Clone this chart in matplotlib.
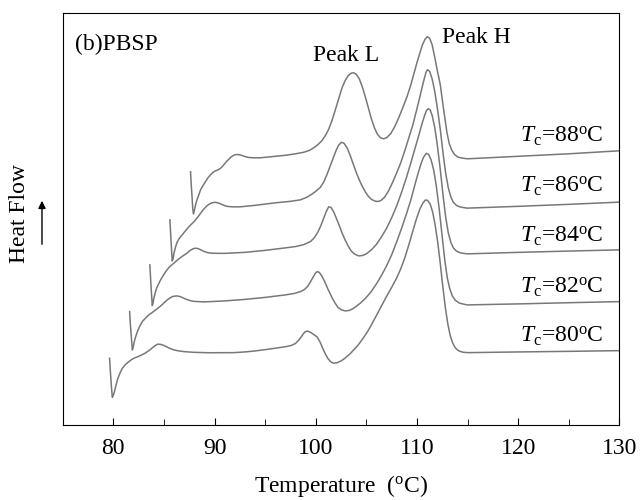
import matplotlib
matplotlib.use("Agg")
import matplotlib.pyplot as plt
from matplotlib.patches import FancyArrowPatch
from matplotlib.ticker import MultipleLocator

plt.rcParams['font.family'] = ['Liberation Serif', 'DejaVu Serif']
plt.rcParams['mathtext.fontset'] = 'custom'
plt.rcParams['mathtext.rm'] = 'Liberation Serif'
plt.rcParams['mathtext.it'] = 'Liberation Serif:italic'

# DSC heating traces after isothermal crystallization at Tc (a.u.)
t_88 = [87.63, 87.70, 87.78, 87.85, 87.92, 88.0, 88.15, 88.3, 88.45, 88.62, 88.85, 89.1, 89.35,
        89.61, 89.85, 90.1, 90.35, 90.59, 90.8, 91.0, 91.2, 91.41, 91.6, 91.8, 92.0, 92.24, 92.5,
        92.8, 93.1, 93.4, 93.88, 94.5, 95.0, 96.0, 97.0, 98.0, 98.8, 99.4, 99.8, 100.2, 100.6,
        101.0, 101.3, 101.6, 102.0, 102.3, 102.6, 102.9, 103.2, 103.5, 103.75, 104.0, 104.3,
        104.6, 104.9, 105.2, 105.5, 105.8, 106.1, 106.4, 106.71, 107.0, 107.4, 107.8, 108.2,
        108.6, 109.02, 109.4, 109.7, 110.0, 110.3, 110.55, 110.8, 111.03, 111.25, 111.5, 111.75,
        112.0, 112.31, 112.6, 112.97, 113.2, 113.45, 113.7, 114.0, 114.4, 115.0, 120.0, 125.0, 130.0]
h_88 = [253, 240, 228, 216, 211, 214, 221, 226, 230, 235, 239, 243, 247,
        250, 252.5, 254, 255, 256.5, 258.5, 261, 263.5, 265.5, 267.5, 269, 270, 270.3, 270,
        269, 268, 267.3, 267, 267, 267.5, 268.5, 269.5, 271, 272.5, 274.5, 277, 280, 284,
        290, 296, 304, 317, 327, 337, 344, 349, 351.5, 352, 350.5, 346,
        338, 328, 317, 306, 297, 290.5, 287, 286, 287, 291, 298, 307,
        317, 328, 340, 351, 362, 372, 380, 385.5, 388, 386.5, 380, 368,
        355, 340, 318, 292, 281, 274.5, 270.5, 268, 266.8, 266, 268.5, 271, 274]

t_86 = [85.59, 85.66, 85.74, 85.82, 85.9, 86.0, 86.15, 86.3, 86.45, 86.64, 86.85, 87.0, 87.25,
        87.46, 87.7, 88.0, 88.29, 88.55, 88.8, 89.05, 89.3, 89.61, 89.85, 90.1, 90.4, 90.7, 91.0,
        91.25, 91.7, 92.5, 94.0, 96.0, 97.5, 98.49, 99.1, 99.6, 100.0, 100.46, 100.8, 101.1, 101.4,
        101.7, 102.0, 102.25, 102.54, 102.8, 103.1, 103.4, 103.7, 104.0, 104.3, 104.6, 104.9,
        105.2, 105.5, 105.8, 106.06, 106.4, 106.8, 107.2, 107.6, 108.0, 108.4, 108.8, 109.2,
        109.6, 109.9, 110.2, 110.5, 110.75, 110.9, 111.03, 111.25, 111.5, 111.75, 112.0, 112.3,
        112.6, 112.85, 113.1, 113.35, 113.6, 113.9, 114.3, 114.95, 120.0, 125.0, 130.0]
h_86 = [205, 192, 178, 164, 166, 172, 178, 182.5, 185.5, 188, 190.5, 192.5, 195.5,
        198, 200.5, 203.5, 207, 210.5, 214, 217, 219.5, 221.5, 222.3, 222.5, 221.8, 220.5, 219.2,
        218.5, 218, 218, 219.5, 222, 223.5, 225, 227.5, 230.5, 233.5, 237.5, 243, 250, 258,
        266, 274, 279.5, 282.5, 281.5, 277, 269.5, 261, 252.5, 245, 238.5, 233,
        228.5, 225.5, 224, 223.3, 224, 227.5, 234, 242.5, 252, 262, 274, 287,
        300, 312, 324, 337, 347, 352.5, 355, 353.5, 346, 334, 318, 296,
        270, 251, 237, 228, 222.5, 219.5, 217.8, 216.7, 218.5, 220.5, 222.7]

t_84 = [83.61, 83.68, 83.76, 83.85, 83.93, 84.0, 84.15, 84.3, 84.5, 84.67, 85.0, 85.3, 85.6,
        85.98, 86.3, 86.6, 86.95, 87.31, 87.6, 87.85, 88.12, 88.4, 88.7, 89.0, 89.3, 89.6, 89.93,
        91.0, 93.0, 95.0, 97.0, 98.0, 98.8, 99.48, 99.85, 100.2, 100.5, 100.8, 101.05, 101.28,
        101.5, 101.75, 102.0, 102.3, 102.6, 102.9, 103.2, 103.5, 103.8, 104.24, 104.6, 105.0,
        105.5, 106.0, 106.5, 107.0, 107.5, 108.0, 108.5, 109.0, 109.4, 109.8, 110.2, 110.5,
        110.75, 110.93, 111.1, 111.3, 111.5, 111.75, 112.0, 112.3, 112.6, 112.85, 113.1, 113.35,
        113.6, 113.9, 114.3, 114.95, 120.0, 125.0, 130.0]
h_84 = [160, 147, 133, 119.3, 122, 126.5, 132.5, 137.5, 141.5, 145, 150.5, 155, 158.5,
        161.7, 164.5, 167, 169.5, 172, 174.5, 176, 176.7, 176.2, 174.8, 173.3, 172.3, 171.8, 171.6,
        171.5, 172.5, 174.5, 177, 178.3, 180.2, 183.3, 187, 192.5, 199, 207, 213.5, 218,
        217.5, 213.5, 207.5, 200, 192, 185, 179, 174, 171, 169, 169.3, 171,
        175, 180.5, 188, 196.5, 207, 219, 233, 248.5, 262, 276, 290, 301,
        309, 314, 316, 315, 309.5, 298, 281, 256, 228, 207, 192, 182.5,
        177, 173.8, 172, 171, 172.5, 173.8, 175]

t_82 = [81.61, 81.68, 81.78, 81.88, 81.96, 82.05, 82.2, 82.4, 82.6, 82.86, 83.2, 83.5, 83.85,
        84.18, 84.5, 84.8, 85.1, 85.33, 85.6, 85.9, 86.25, 86.55, 86.8, 87.1, 87.4, 87.7, 88.0,
        89.0, 91.0, 93.0, 95.0, 97.0, 97.9, 98.49, 98.9, 99.2, 99.45, 99.7, 99.95, 100.14, 100.35,
        100.6, 100.9, 101.2, 101.55, 101.9, 102.2, 102.55, 102.93, 103.3, 103.6, 104.0, 104.5,
        105.0, 105.5, 106.0, 106.5, 107.0, 107.5, 108.0, 108.5, 109.0, 109.4, 109.8, 110.1, 110.4,
        110.65, 110.93, 111.15, 111.4, 111.65, 111.9, 112.2, 112.5, 112.75, 113.0, 113.25, 113.5,
        113.8, 114.2, 114.95, 120.0, 125.0, 130.0]
h_82 = [113.3, 101, 88, 75, 77.5, 82.5, 88, 94, 98.5, 103.3, 107, 110, 112.5,
        115, 117.5, 120, 123, 125, 127, 128.5, 129, 128.5, 127.5, 126, 125, 124, 123.5,
        123, 124, 125.5, 127.5, 130, 131.5, 133.3, 135.5, 138.5, 142.5, 147, 151.5, 153.3, 152.5,
        149, 143, 136, 128.5, 122, 117.5, 115, 114, 114.5, 115.8, 118.5, 122.5,
        127.5, 133.5, 141, 149.5, 159, 170, 183, 197, 212, 225, 240, 251, 261,
        267.5, 271.5, 270.5, 265, 255, 240, 216, 188, 165, 147, 136, 129,
        124.5, 121.8, 120, 121, 122.2, 123.3]

t_80 = [79.63, 79.7, 79.8, 79.9, 80.0, 80.1, 80.25, 80.4, 80.6, 80.89, 81.2, 81.5, 81.75,
        82.03, 82.4, 82.8, 83.1, 83.36, 83.65, 83.9, 84.15, 84.4, 84.7, 85.0, 85.3, 85.6, 85.95,
        86.32, 87.0, 88.0, 89.5, 91.91, 93.0, 94.0, 95.0, 96.0, 97.0, 97.6, 98.0, 98.3, 98.6,
        98.8, 98.98, 99.2, 99.45, 99.75, 100.14, 100.45, 100.7, 100.95, 101.2, 101.5, 101.78,
        102.1, 102.5, 102.9, 103.4, 103.8, 104.2, 104.6, 105.1, 105.5, 106.0, 106.5, 107.0,
        107.5, 108.0, 108.4, 108.8, 109.2, 109.6, 109.95, 110.3, 110.6, 110.83, 111.05, 111.3,
        111.55, 111.8, 112.05, 112.3, 112.55, 112.8, 113.05, 113.3, 113.55, 113.8, 114.1, 114.5,
        115.0, 120.0, 125.0, 130.0]
h_80 = [66.7, 55, 40, 27.7, 29.5, 33, 39, 45, 50.5, 56.7, 60.5, 63, 65,
        66.7, 68.2, 70, 71.5, 73.3, 75.3, 77.5, 79.5, 80.8, 80.5, 79.5, 78, 76.5, 75.2,
        74.3, 73.3, 72.6, 72.2, 72.3, 73, 74, 75.3, 76.7, 78.2, 79.5, 81.5, 84.5, 88.5,
        91.5, 93.3, 93.8, 92.8, 90.8, 88, 82.5, 76.5, 71, 66.5, 63, 61.7,
        62.2, 64, 66.8, 71.2, 75.5, 80, 85.5, 93, 100, 109.5, 119, 128.5,
        137.5, 147, 156, 167, 180, 194, 206, 216, 222, 224.8, 224.5, 221,
        213, 200, 183, 162, 139, 118, 101, 89, 81.5, 77, 74.3, 72.8,
        72.3, 73, 73.6, 74.3]

curves = [(t_88, h_88), (t_86, h_86), (t_84, h_84), (t_82, h_82), (t_80, h_80)]
tc_labels = ['88', '86', '84', '82', '80']
label_y = [288, 238, 189, 138, 89]

fig = plt.figure(figsize=(6.4, 5.0), dpi=100)
ax = fig.add_axes([0.098, 0.15, 0.8697, 0.8246])

for t, h in curves:
    ax.plot(t, h, color='#787878', lw=1.1)

for lab, y in zip(tc_labels, label_y):
    ax.text(128.4, y, r'$T_{\rm c}$=' + lab + r'$^{\rm o}$C', ha='right', va='center', fontsize=17)

ax.text(76.2, 380, '(b)PBSP', fontsize=17, va='center', ha='left')
ax.text(103.0, 369, 'Peak L', fontsize=17, ha='center', va='center')
ax.text(115.9, 387, 'Peak H', fontsize=17, ha='center', va='center')

ax.set_xlim(75, 130)
ax.set_ylim(0, 412)
ax.xaxis.set_major_locator(MultipleLocator(10))
ax.xaxis.set_minor_locator(MultipleLocator(5))
ax.tick_params(axis='x', which='both', direction='in', labelsize=17, pad=9)
ax.tick_params(axis='x', which='major', length=5)
ax.tick_params(axis='x', which='minor', length=4)
ax.set_yticks([])
ax.set_xlabel(r'Temperature  ($^{\rm o}$C)', fontsize=17)
ax.xaxis.label.set_va('center')
ax.xaxis.set_label_coords(0.5, -0.148)

fig.text(0.031, 0.572, 'Heat Flow', rotation=90, fontsize=17, ha='center', va='center')
fig.patches.append(FancyArrowPatch((0.0656, 0.506), (0.0656, 0.604),
                   transform=fig.transFigure, arrowstyle='-|>', mutation_scale=11,
                   color='black', lw=1.0))

fig.savefig('out.png', dpi=100)
